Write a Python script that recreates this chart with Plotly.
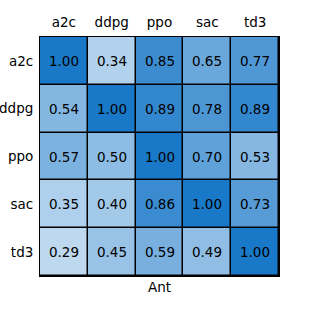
import plotly.graph_objects as go

algos = ["a2c", "ddpg", "ppo", "sac", "td3"]
values = [
    [1.00, 0.34, 0.85, 0.65, 0.77],
    [0.54, 1.00, 0.89, 0.78, 0.89],
    [0.57, 0.50, 1.00, 0.70, 0.53],
    [0.35, 0.40, 0.86, 1.00, 0.73],
    [0.29, 0.45, 0.59, 0.49, 1.00],
]
xlabel = "Ant"

fig = go.Figure(go.Heatmap(
    z=values, x=algos, y=algos,
    colorscale=[[0, "#ffffff"], [1, "rgb(26,120,200)"]],
    zmin=0, zmax=1, showscale=False,
    xgap=1.5, ygap=1.5,
    texttemplate="%{z:.2f}",
    textfont=dict(family="DejaVu Sans", size=13.5, color="black"),
    hoverinfo="skip",
))

fig.update_layout(
    width=310, height=310,
    margin=dict(l=40, r=31, t=37, b=34, autoexpand=False),
    paper_bgcolor="white", plot_bgcolor="black",
    font=dict(family="DejaVu Sans", size=13.5, color="black"),
    xaxis=dict(side="top", showgrid=False, zeroline=False, ticks="",
               showline=True, linecolor="black", linewidth=1, mirror=True,
               ticklabelstandoff=4, automargin=False),
    yaxis=dict(autorange="reversed", showgrid=False, zeroline=False, ticks="",
               showline=True, linecolor="black", linewidth=1, mirror=True,
               ticklabelstandoff=3, automargin=False),
    annotations=[dict(text=xlabel, x=0.5, y=0, xref="paper", yref="paper",
                      yshift=-1, yanchor="top", showarrow=False,
                      font=dict(size=13.5))],
)

fig.write_html(
    "out.html",
    config={"displayModeBar": False},
    post_script="document.body.style.margin='0';document.body.style.overflow='hidden';",
)
